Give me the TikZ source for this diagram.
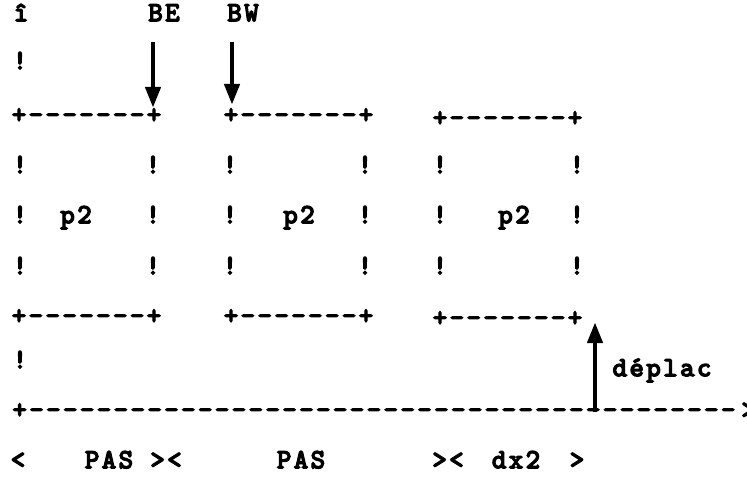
\documentclass[tikz,border=0pt]{standalone}
\usepackage{fontspec}
\usetikzlibrary{arrows.meta}
\newfontfamily\typew{lmmonolt10-bold.otf}[LetterSpace=7.5,Ligatures=TeXOff,FakeBold=3.5]

\begin{document}
\begin{tikzpicture}[
  tw/.style={font=\typew\fontsize{20}{24}\selectfont,inner sep=0pt,text height=9pt,text depth=0pt},
  ptr/.style={line width=3.5pt,-{Triangle[width=10.5pt,length=15pt]}}]
\useasboundingbox (0,0) rectangle (18.675,12);
\node[tw] (axis) at (0.525,11.625) {î};
\node[tw] (be) at (4.1,11.625) {BE};
\node[tw] (bw) at (6.075,11.625) {BW};
\node[tw] (bar1) at (0.5,10.425) {!};
\node[tw] (topA) at (2.1625,9.075) {+-------+};
\node[tw] (topB) at (7.4625,9.075) {+-------+};
\node[tw] (topC) at (12.6875,9.0) {+-------+};
\node[tw] (bar3a) at (0.5,7.825) {!};
\node[tw] (bar3b) at (3.825,7.825) {!};
\node[tw] (bar3c) at (5.75,7.825) {!};
\node[tw] (bar3d) at (9.125,7.825) {!};
\node[tw] (bar3e) at (11.0,7.825) {!};
\node[tw] (bar3f) at (14.425,7.825) {!};
\node[tw] (bar4a) at (0.5,6.575) {!};
\node[tw] (p2A) at (1.9,6.575) {p2};
\node[tw] (bar4b) at (3.825,6.575) {!};
\node[tw] (bar4c) at (5.75,6.575) {!};
\node[tw] (p2B) at (7.475,6.575) {p2};
\node[tw] (bar4d) at (9.125,6.575) {!};
\node[tw] (bar4e) at (11.0,6.575) {!};
\node[tw] (p2C) at (12.85,6.575) {p2};
\node[tw] (bar4f) at (14.425,6.575) {!};
\node[tw] (bar5a) at (0.5,5.3) {!};
\node[tw] (bar5b) at (3.825,5.3) {!};
\node[tw] (bar5c) at (5.75,5.3) {!};
\node[tw] (bar5d) at (9.125,5.3) {!};
\node[tw] (bar5e) at (11.0,5.3) {!};
\node[tw] (bar5f) at (14.425,5.3) {!};
\node[tw] (botA) at (2.1625,4.05) {+-------+};
\node[tw] (botB) at (7.4625,4.05) {+-------+};
\node[tw] (botC) at (12.6875,4.0) {+-------+};
\node[tw] (bar7) at (0.5,2.95) {!};
\node[tw] (dep) at (16.55,2.75) {déplac};
\node[tw,anchor=west] (base) at (0.3,1.7) {+{----------}{----------}{----------}{----------}{--}\hspace{4pt}>};
\node[tw] (ltA) at (0.45,0.45) {<};
\node[tw] (pasA) at (2.725,0.45) {PAS};
\node[tw] (gtltA) at (4.15,0.45) {><};
\node[tw] (pasB) at (7.525,0.45) {PAS};
\node[tw] (gtltB) at (11.2,0.45) {><};
\node[tw] (dx) at (12.9,0.45) {dx2};
\node[tw] (gtC) at (14.425,0.45) {>};
% pointers
\coordinate (beFrom) at (3.825,10.95);
\coordinate (beTo) at (3.825,9.3);
\coordinate (bwFrom) at (5.8,10.95);
\coordinate (bwTo) at (5.8,9.375);
\coordinate (depFrom) at (14.875,1.7);
\coordinate (depTo) at (14.875,3.95);
\draw[ptr] (beFrom) -- (beTo);
\draw[ptr] (bwFrom) -- (bwTo);
\draw[ptr] (depFrom) -- (depTo);
\end{tikzpicture}
\end{document}
